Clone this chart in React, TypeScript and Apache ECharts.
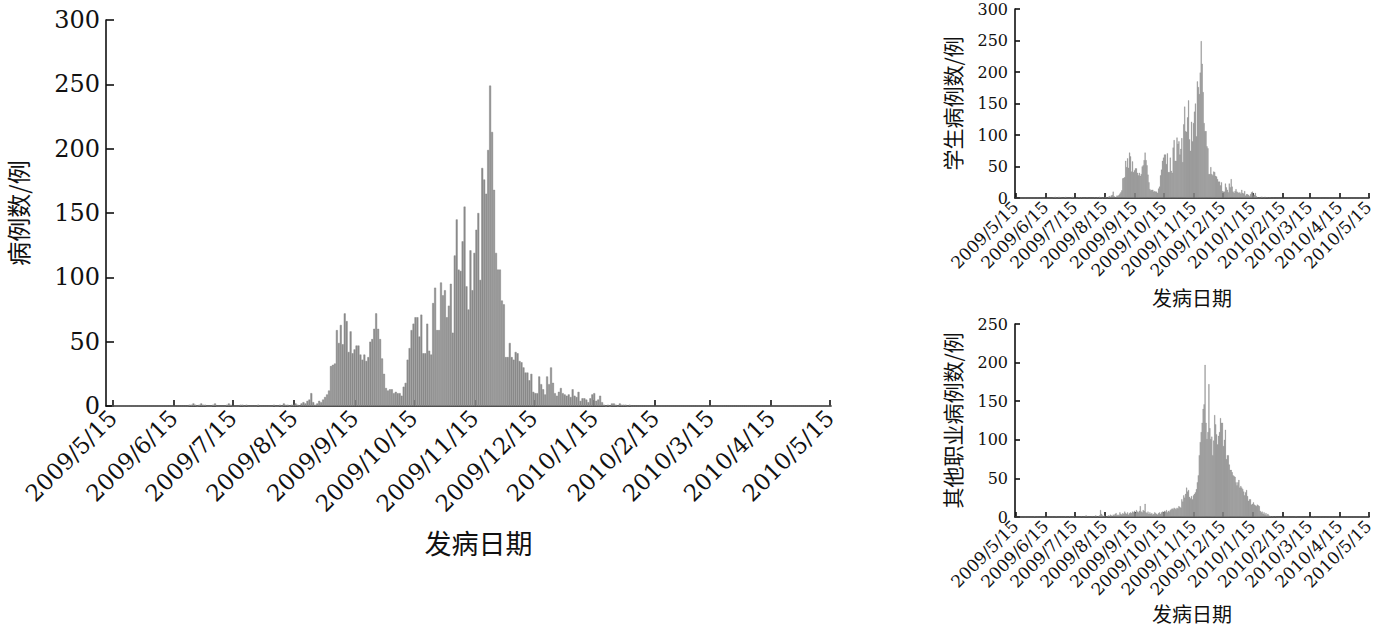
import React, { useEffect, useRef } from "react";
import * as echarts from "echarts";

// Daily case counts for students, index 0 = 2009/5/15 ... index 365 = 2010/5/15
const studentCases = [
  0, 0, 0, 0, 0, 0, 0, 0, 0, 0,
  0, 0, 0, 0, 0, 0, 0, 0, 0, 0,
  0, 0, 0, 0, 0, 0, 0, 0, 0, 0,
  0, 0, 0, 0, 0, 0, 0, 0, 0, 1,
  1, 2, 1, 0, 1, 2, 1, 1, 0, 0,
  0, 1, 2, 0, 0, 0, 0, 0, 1, 2,
  1, 0, 0, 0, 0, 1, 1, 0, 1, 0,
  0, 0, 0, 0, 1, 0, 0, 0, 0, 0,
  0, 0, 1, 0, 0, 1, 0, 2, 1, 1,
  0, 1, 1, 2, 1, 0, 2, 3, 2, 4,
  5, 10, 3, 1, 2, 4, 3, 5, 7, 9,
  12, 31, 32, 33, 59, 49, 63, 48, 72, 66,
  42, 58, 41, 44, 47, 47, 40, 36, 40, 35,
  38, 50, 52, 60, 72, 60, 52, 37, 25, 14,
  12, 13, 13, 10, 11, 10, 10, 8, 15, 18,
  36, 45, 59, 64, 69, 69, 54, 71, 41, 41,
  64, 43, 40, 80, 92, 59, 59, 96, 86, 90,
  69, 78, 95, 57, 117, 145, 106, 105, 128, 155,
  93, 75, 121, 90, 119, 137, 150, 98, 185, 176,
  165, 199, 249, 213, 168, 119, 106, 106, 82, 79,
  38, 38, 49, 38, 36, 42, 41, 35, 34, 30,
  26, 26, 20, 25, 11, 10, 10, 23, 17, 13,
  9, 23, 17, 30, 18, 10, 8, 11, 14, 10,
  9, 8, 9, 7, 13, 8, 7, 11, 4, 6,
  6, 5, 3, 6, 9, 10, 4, 5, 8, 3,
  1, 0, 1, 0, 2, 2, 1, 0, 2, 1,
  1, 1, 0, 1, 0, 0, 0, 0, 0, 0,
  0, 0, 0, 0, 0, 0, 0, 0, 0, 0,
  0, 0, 0, 0, 0, 0, 0, 0, 0, 0,
  0, 0, 0, 0, 0, 0, 0, 0, 0, 0,
  0, 0, 0, 0, 0, 0, 0, 0, 0, 0,
  0, 0, 0, 0, 0, 0, 0, 0, 0, 0,
  0, 0, 0, 0, 0, 0, 0, 0, 0, 0,
  0, 0, 0, 0, 0, 0, 0, 0, 0, 0,
  0, 0, 0, 0, 0, 0, 0, 0, 0, 0,
  0, 0, 0, 0, 0, 0, 0, 0, 0, 0,
  0, 0, 0, 0, 0, 0,
];

// Daily case counts for other occupations, index 0 = 2009/5/15
const otherCases = [
  0, 0, 0, 0, 0, 0, 0, 0, 0, 0,
  0, 0, 0, 0, 0, 0, 0, 0, 0, 0,
  1, 0, 0, 0, 0, 0, 0, 0, 0, 0,
  0, 0, 0, 0, 0, 0, 0, 0, 0, 0,
  0, 0, 1, 0, 0, 0, 0, 0, 0, 0,
  0, 0, 1, 0, 0, 0, 1, 0, 0, 0,
  0, 1, 0, 0, 0, 0, 0, 0, 1, 0,
  0, 0, 1, 2, 1, 1, 0, 1, 0, 1,
  1, 0, 1, 2, 1, 0, 1, 2, 9, 4,
  2, 1, 2, 1, 0, 1, 2, 1, 3, 2,
  1, 3, 2, 4, 5, 2, 3, 2, 6, 4,
  3, 5, 4, 7, 5, 4, 6, 3, 5, 6,
  5, 7, 6, 8, 5, 9, 7, 6, 8, 14,
  7, 6, 9, 8, 17, 6, 5, 7, 4, 6,
  4, 5, 3, 4, 6, 5, 4, 3, 5, 6,
  4, 6, 7, 6, 8, 7, 9, 6, 8, 7,
  9, 10, 11, 10, 12, 11, 10, 12, 11, 14,
  13, 12, 23, 20, 28, 25, 30, 38, 33, 35,
  26, 24, 27, 23, 28, 30, 32, 36, 45, 54,
  80, 97, 110, 122, 140, 146, 197, 122, 101, 110,
  172, 115, 101, 104, 80, 99, 132, 120, 107, 94,
  105, 110, 128, 122, 122, 92, 100, 113, 75, 80,
  80, 68, 61, 61, 58, 54, 53, 52, 45, 41,
  45, 48, 38, 40, 38, 36, 33, 28, 32, 35,
  27, 21, 23, 23, 16, 17, 19, 16, 15, 14,
  16, 15, 14, 8, 6, 7, 4, 6, 3, 5,
  2, 4, 2, 1, 1, 0, 1, 0, 0, 1,
  0, 0, 0, 0, 0, 0, 0, 0, 0, 0,
  0, 0, 0, 0, 0, 0, 0, 0, 0, 0,
  1, 0, 0, 0, 0, 0, 0, 0, 0, 0,
  0, 0, 0, 0, 0, 0, 0, 0, 1, 0,
  0, 0, 0, 0, 0, 0, 0, 0, 0, 0,
  0, 0, 0, 0, 0, 0, 0, 0, 0, 0,
  0, 0, 0, 0, 0, 0, 0, 0, 0, 0,
  0, 0, 0, 0, 0, 0, 0, 0, 0, 0,
  0, 0, 0, 0, 0, 0, 0, 0, 0, 0,
  0, 0, 0, 0, 0, 0,
];

// The large chart's axis begins three days before 2009/5/15
const mainLeadDays = [null, null, null];

const xTitle = "发病日期";
const mainYTitle = "病例数/例";
const studentYTitle = "学生病例数/例";
const otherYTitle = "其他职业病例数/例";

function makeDays(y: number, m: number, d: number, n: number): string[] {
  const out: string[] = [];
  for (let k = 0; k < n; k++) {
    const dt = new Date(y, m - 1, d + k);
    out.push(`${dt.getFullYear()}/${dt.getMonth() + 1}/${dt.getDate()}`);
  }
  return out;
}

const mainDays = makeDays(2009, 5, 12, 369);
const smallDays = makeDays(2009, 5, 15, 366);

const NUM_FONT = "'DejaVu Serif', 'Liberation Serif', serif";
const CJK_FONT = "'Noto Sans CJK SC', sans-serif";
const INK = "#111111";
const BAR = "#8a8a8a";

const isFifteenth = (_i: number, v: string) => /\/15$/.test(v);

function xAxisCfg(grid: number, days: string[], fs: number, nameFs: number, nameGap: number, margin: number, tickLen: number, namePadLeft: number) {
  return {
    type: "category",
    gridIndex: grid,
    data: days,
    boundaryGap: true,
    name: xTitle,
    nameLocation: "middle",
    nameGap,
    nameTextStyle: { fontFamily: CJK_FONT, fontSize: nameFs, color: INK, padding: [0, 0, 0, namePadLeft] },
    axisLine: { show: true, onZero: false, lineStyle: { color: INK, width: 1.6 } },
    axisTick: { show: true, inside: true, length: tickLen, alignWithLabel: true, interval: isFifteenth, lineStyle: { color: INK, width: 1.6 } },
    axisLabel: { show: true, interval: isFifteenth, rotate: 45, margin, fontFamily: NUM_FONT, fontSize: fs, color: INK },
    splitLine: { show: false },
  };
}

function yAxisCfg(grid: number, max: number, name: string, fs: number, nameFs: number, nameGap: number, margin: number, tickLen: number) {
  return {
    type: "value",
    gridIndex: grid,
    min: 0,
    max,
    interval: 50,
    name,
    nameLocation: "middle",
    nameGap,
    nameRotate: 90,
    nameTextStyle: { fontFamily: CJK_FONT, fontSize: nameFs, color: INK },
    axisLine: { show: true, onZero: false, lineStyle: { color: INK, width: 1.6 } },
    axisTick: { show: true, inside: true, length: tickLen, lineStyle: { color: INK, width: 1.6 } },
    axisLabel: { show: true, margin, fontFamily: NUM_FONT, fontSize: fs, color: INK },
    splitLine: { show: false },
  };
}

function barSeries(idx: number, data: (number | null)[], border: number) {
  return {
    type: "bar",
    xAxisIndex: idx,
    yAxisIndex: idx,
    data,
    barWidth: "100%",
    barCategoryGap: "0%",
    itemStyle: { color: BAR, borderColor: BAR, borderWidth: border },
    silent: true,
  };
}

export default function App() {
  const ref = useRef<HTMLDivElement>(null);
  useEffect(() => {
    if (!ref.current) return;
    const chart = echarts.init(ref.current, undefined, { renderer: "svg" });
    chart.setOption({
      animation: false,
      backgroundColor: "#ffffff",
      grid: [
        { left: 106, top: 20, width: 725, height: 386, outerBoundsMode: "none", containLabel: false },
        { left: 1015, top: 9, width: 354, height: 189, outerBoundsMode: "none", containLabel: false },
        { left: 1015, top: 324, width: 354, height: 193, outerBoundsMode: "none", containLabel: false },
      ],
      xAxis: [
        xAxisCfg(0, mainDays, 23, 27, 123, 8, 6, 20),
        xAxisCfg(1, smallDays, 17, 20, 89, 6, 5, 0),
        xAxisCfg(2, smallDays, 17, 20, 86, 6, 5, 0),
      ],
      yAxis: [
        yAxisCfg(0, 300, mainYTitle, 24, 24, 77, 6, 8),
        yAxisCfg(1, 300, studentYTitle, 16, 21, 53, 7, 5),
        yAxisCfg(2, 250, otherYTitle, 16, 21, 53, 7, 5),
      ],
      series: [
        barSeries(0, [...mainLeadDays, ...studentCases], 0.5),
        barSeries(1, studentCases, 0.3),
        barSeries(2, otherCases, 0.3),
      ],
    });
    return () => chart.dispose();
  }, []);
  return <div ref={ref} style={{ position: "absolute", left: 0, top: 0, width: 1384, height: 626 }} />;
}
